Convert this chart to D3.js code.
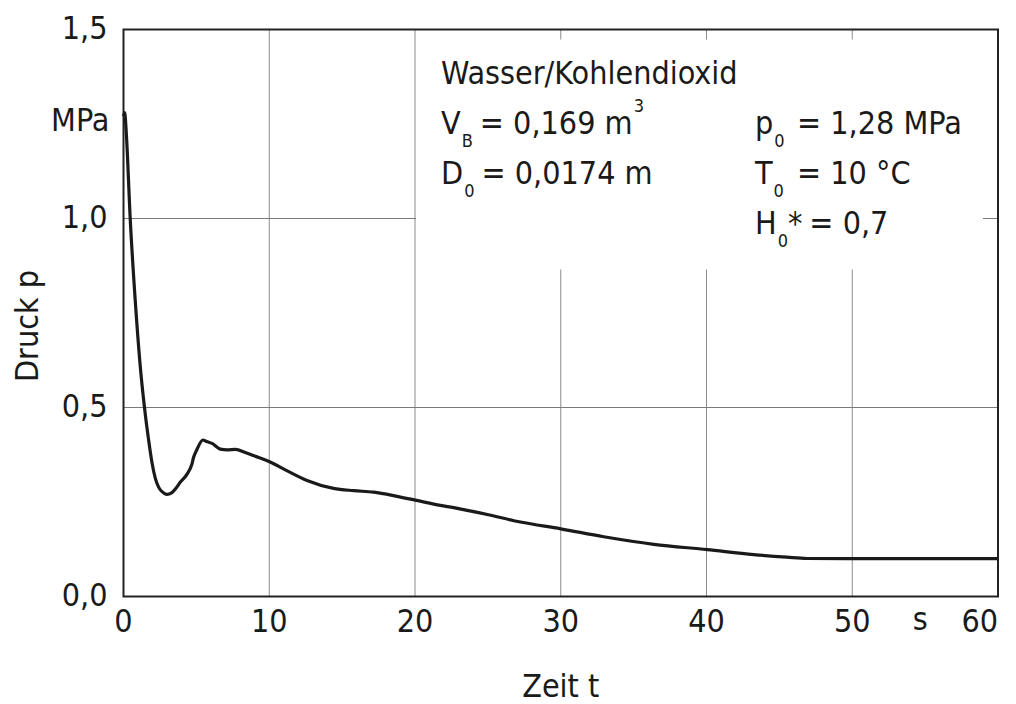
<!DOCTYPE html>
<html>
<head>
<meta charset="utf-8">
<script src="https://cdn.jsdelivr.net/npm/d3@7"></script>
<style>
  body { margin: 0; background: #fff; }
  text { font-family: "DejaVu Sans Condensed", "Liberation Sans Narrow", sans-serif; fill: #1a1a1a; }
</style>
</head>
<body>
<div id="chart"></div>
<script>
// Druckverlauf im Behaelter ueber der Zeit
var zeit = [0, 0.08, 0.2, 0.46, 0.8, 1.15, 1.44, 1.72, 1.95, 2.18, 2.4, 2.6, 2.8, 2.98, 3.3, 3.55, 3.89, 4.35, 4.69, 4.8, 5.04, 5.45,
            5.7, 6.07, 6.64, 7.1, 7.67, 8.4, 9.04, 9.95, 11.2, 12.59, 14.41, 15.8, 17.16, 18.76, 20.02, 21.74, 22.65,
            24.94, 27.23, 30.0, 32.95, 36.38, 40.04, 43.24, 45.5, 46.9, 50, 55, 60];
var druck = [1.27, 1.28, 1.22, 1.0, 0.786, 0.609, 0.5, 0.415, 0.355, 0.313, 0.29, 0.279, 0.273, 0.27, 0.274, 0.284, 0.302, 0.323, 0.35, 0.367, 0.389, 0.414,
             0.41, 0.405, 0.39, 0.388, 0.389, 0.38, 0.371, 0.358, 0.333, 0.307, 0.286, 0.28, 0.276, 0.265, 0.255, 0.241, 0.235,
             0.217, 0.197, 0.179, 0.158, 0.138, 0.124, 0.111, 0.104, 0.1005, 0.1, 0.1, 0.1];

var xTicks = [0, 10, 20, 30, 40, 50, 60];
var yTicks = [0, 0.5, 1.0, 1.5];

var margin = {top: 29.5, right: 18, bottom: 107.5, left: 123.5},
  width = 1016 - margin.left - margin.right,
  height = 704 - margin.top - margin.bottom;

var svg = d3.select("#chart")
.append("svg")
  .attr("width", 1016)
  .attr("height", 704)
.append("g")
  .attr("transform", "translate(" + margin.left + "," + margin.top + ")");

var x = d3.scaleLinear().domain([0, 60]).range([0, width]);
var y = d3.scaleLinear().domain([0, 1.5]).range([height, 0]);

var de = d3.formatLocale({decimal: ",", thousands: ".", grouping: [3], currency: ["", " €"]});
var fmt = de.format(".1f");

// Gitter
svg.selectAll(".vgrid")
  .data(xTicks.slice(1, -1))
  .enter()
  .append("line")
    .attr("x1", d => x(d)).attr("x2", d => x(d))
    .attr("y1", 0).attr("y2", height)
    .style("stroke", "#8c8c8c")
    .style("stroke-width", 1);

svg.selectAll(".hgrid")
  .data(yTicks.slice(1, -1))
  .enter()
  .append("line")
    .attr("x1", 0).attr("x2", width)
    .attr("y1", d => y(d)).attr("y2", d => y(d))
    .style("stroke", "#7a7a7a")
    .style("stroke-width", 1);

// weisses Feld fuer die Versuchsdaten
svg.append("rect")
  .attr("x", x(20) + 1)
  .attr("y", 10)
  .attr("width", 983 - margin.left - x(20) - 1)
  .attr("height", 230)
  .style("fill", "#fff");

// Rahmen
svg.append("rect")
  .attr("x", 0).attr("y", 0)
  .attr("width", width).attr("height", height)
  .style("fill", "none")
  .style("stroke", "#222")
  .style("stroke-width", 2);

// Kurve
var line = d3.line()
  .x((d, i) => x(zeit[i]))
  .y(d => y(d))
  .curve(d3.curveMonotoneX);

svg.append("path")
  .datum(druck)
  .attr("d", line)
  .style("fill", "none")
  .style("stroke", "#1a1a1a")
  .style("stroke-width", 3.2)
  .style("stroke-linejoin", "round");

// Achsenbeschriftung
var fs = 32;

svg.selectAll(".ylab")
  .data(yTicks)
  .enter()
  .append("text")
    .attr("x", -16)
    .attr("y", d => y(d) + 9)
    .attr("text-anchor", "end")
    .style("font-size", fs + "px")
    .text(d => fmt(d));

svg.append("text")
  .attr("x", -14).attr("y", 101)
  .attr("text-anchor", "end")
  .style("font-size", fs + "px")
  .text("MPa");

svg.selectAll(".xlab")
  .data(xTicks)
  .enter()
  .append("text")
    .attr("x", d => d === 60 ? width : x(d))
    .attr("y", height + 35)
    .attr("text-anchor", d => d === 60 ? "end" : "middle")
    .style("font-size", fs + "px")
    .text(d => d);

svg.append("text")
  .attr("x", x(55) - 5).attr("y", height + 33)
  .attr("text-anchor", "middle")
  .style("font-size", fs + "px")
  .text("s");

svg.append("text")
  .attr("x", x(30)).attr("y", height + 100)
  .attr("text-anchor", "middle")
  .style("font-size", fs + "px")
  .text("Zeit t");

svg.append("text")
  .attr("transform", "translate(" + (38 - margin.left) + "," + (326 - margin.top) + ") rotate(-90)")
  .attr("text-anchor", "middle")
  .style("font-size", fs + "px")
  .text("Druck p");

// Versuchsdaten
var info = svg.append("g")
  .attr("transform", "translate(" + (-margin.left) + "," + (-margin.top) + ")")
  .style("font-size", fs + "px");

info.append("text").attr("x", 441).attr("y", 84).text("Wasser/Kohlendioxid");

// Formelzeichen mit Index; xEq = null laesst das Gleichheitszeichen im Textfluss
function param(xp, yp, sym, sub, star, xEq, val, sup) {
  var t = info.append("text").attr("x", xp).attr("y", yp);
  t.append("tspan").text(sym);
  t.append("tspan").attr("dx", 1).attr("dy", 13).style("font-size", "18px").text(sub);
  if (star) t.append("tspan").attr("dy", -13).text("*");
  var eq = t.append("tspan").attr("dy", star ? 0 : -13).attr("dx", 7).text("= " + val);
  if (xEq !== null) eq.attr("x", xEq).attr("dx", 0);
  if (sup) t.append("tspan").attr("dx", 1).attr("dy", -22).style("font-size", "18px").text(sup);
}

param(441, 134, "V", "B", false, null, "0,169 m", "3");
param(441, 184, "D", "0", false, null, "0,0174 m", null);
param(755, 134, "p", "0", false, 797, "1,28 MPa", null);
param(755, 184, "T", "0", false, 797, "10 °C", null);
param(755, 234, "H", "0", true, null, "0,7", null);
</script>
</body>
</html>
